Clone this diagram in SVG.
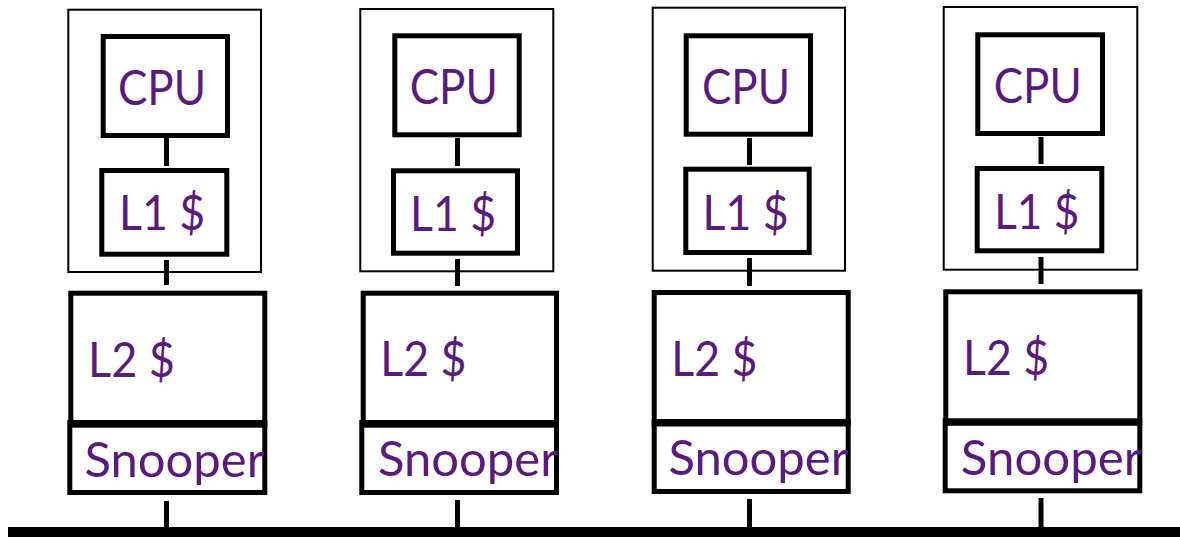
<svg xmlns="http://www.w3.org/2000/svg" width="1180" height="537" viewBox="0 0 1180 537">
<style>
.outer{fill:none;stroke:#000;stroke-width:2}
.box{fill:none;stroke:#000;stroke-width:5}
.lbl{font-family:Lato,"Open Sans","Liberation Sans",sans-serif;font-size:48px;fill:#5A1A7E}
.conn{stroke:#000;stroke-width:5;fill:none}
</style>
<rect width="1180" height="537" fill="#fff"/>
<g id="connectors">
<line class="conn" x1="166.5" y1="138" x2="166.5" y2="166"/>
<line class="conn" x1="166.5" y1="260" x2="166.5" y2="285"/>
<line class="conn" x1="166.5" y1="501" x2="166.5" y2="527"/>
<line class="conn" x1="457.5" y1="138" x2="457.5" y2="166"/>
<line class="conn" x1="457.5" y1="259" x2="457.5" y2="286"/>
<line class="conn" x1="457.5" y1="500" x2="457.5" y2="527"/>
<line class="conn" x1="749.5" y1="138" x2="749.5" y2="165"/>
<line class="conn" x1="749.5" y1="258" x2="749.5" y2="286"/>
<line class="conn" x1="749.5" y1="499" x2="749.5" y2="527"/>
<line class="conn" x1="1041" y1="137" x2="1041" y2="164"/>
<line class="conn" x1="1041" y1="257" x2="1041" y2="284"/>
<line class="conn" x1="1041" y1="498" x2="1041" y2="527"/>
<rect id="bus" x="8" y="527" width="1172" height="10" fill="#000"/>
</g>
<g id="core1">
<rect class="outer" x="68.3" y="9.7" width="192.7" height="262.3"/>
<g id="cpu1"><rect class="box" x="103.2" y="36.5" width="124.3" height="99"/><text class="lbl" x="118" y="105" textLength="88" lengthAdjust="spacingAndGlyphs">CPU</text></g>
<g id="l1_1"><rect class="box" x="101.8" y="170.5" width="125" height="83.7"/><text class="lbl" x="119" y="230" textLength="86" lengthAdjust="spacingAndGlyphs">L1 $</text></g>
</g>
<g id="l2_1"><rect class="box" x="70.8" y="293.2" width="194" height="132"/><text class="lbl" x="88" y="376.5" textLength="87" lengthAdjust="spacingAndGlyphs">L2 $</text></g>
<g id="snoop1"><rect class="box" x="69.8" y="422.5" width="195" height="70"/><text class="lbl" x="84.5" y="477" textLength="180" lengthAdjust="spacingAndGlyphs">Snooper</text></g>

<g id="core2">
<rect class="outer" x="360.3" y="9" width="193" height="262.3"/>
<g id="cpu2"><rect class="box" x="394.8" y="35.8" width="124.4" height="99"/><text class="lbl" x="409.7" y="103.5" textLength="88" lengthAdjust="spacingAndGlyphs">CPU</text></g>
<g id="l1_2"><rect class="box" x="393.5" y="170.8" width="124" height="82.4"/><text class="lbl" x="410" y="230.5" textLength="86" lengthAdjust="spacingAndGlyphs">L1 $</text></g>
</g>
<g id="l2_2"><rect class="box" x="363.2" y="293.2" width="193.3" height="132"/><text class="lbl" x="380.3" y="376" textLength="86" lengthAdjust="spacingAndGlyphs">L2 $</text></g>
<g id="snoop2"><rect class="box" x="361.8" y="422.5" width="194.7" height="70"/><text class="lbl" x="378" y="476" textLength="180" lengthAdjust="spacingAndGlyphs">Snooper</text></g>

<g id="core3">
<rect class="outer" x="652.7" y="7.7" width="192.3" height="263"/>
<g id="cpu3"><rect class="box" x="686.2" y="35.8" width="124.3" height="98.4"/><text class="lbl" x="702" y="104" textLength="88" lengthAdjust="spacingAndGlyphs">CPU</text></g>
<g id="l1_3"><rect class="box" x="685.8" y="169.2" width="123.4" height="83.3"/><text class="lbl" x="702.5" y="230" textLength="86" lengthAdjust="spacingAndGlyphs">L1 $</text></g>
</g>
<g id="l2_3"><rect class="box" x="654.2" y="292.5" width="194" height="131.5"/><text class="lbl" x="671.3" y="376" textLength="86" lengthAdjust="spacingAndGlyphs">L2 $</text></g>
<g id="snoop3"><rect class="box" x="654.2" y="421.5" width="194" height="70"/><text class="lbl" x="668.5" y="475" textLength="180" lengthAdjust="spacingAndGlyphs">Snooper</text></g>

<g id="core4">
<rect class="outer" x="943.7" y="7" width="193.6" height="262.7"/>
<g id="cpu4"><rect class="box" x="977.8" y="34.8" width="124.7" height="98.7"/><text class="lbl" x="993.7" y="102.7" textLength="88" lengthAdjust="spacingAndGlyphs">CPU</text></g>
<g id="l1_4"><rect class="box" x="977.2" y="168.5" width="124.6" height="82.3"/><text class="lbl" x="994.2" y="229" textLength="85" lengthAdjust="spacingAndGlyphs">L1 $</text></g>
</g>
<g id="l2_4"><rect class="box" x="945.8" y="291.8" width="194" height="131.5"/><text class="lbl" x="963" y="375" textLength="86" lengthAdjust="spacingAndGlyphs">L2 $</text></g>
<g id="snoop4"><rect class="box" x="945.2" y="420.8" width="194.6" height="70"/><text class="lbl" x="960.8" y="475" textLength="181" lengthAdjust="spacingAndGlyphs">Snooper</text></g>
</svg>
